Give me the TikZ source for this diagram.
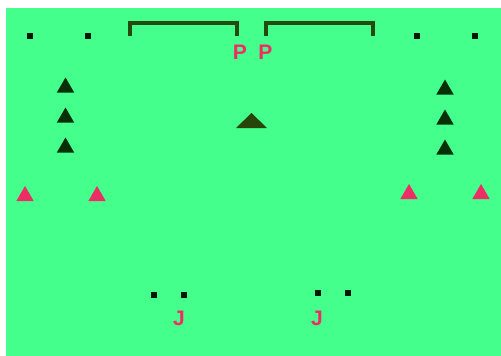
\documentclass[tikz,border=0pt]{standalone}
\usepackage{fontspec}
\setmainfont{Liberation Sans}
\usetikzlibrary{shapes.geometric}
\definecolor{field}{RGB}{68,255,140}
\definecolor{pinkc}{RGB}{238,45,100}
\definecolor{darktri}{RGB}{8,48,8}
\definecolor{olive}{RGB}{40,70,10}
\definecolor{bracketc}{RGB}{35,75,15}
\begin{document}
\begin{tikzpicture}[x=1pt,y=-1pt,
  dotm/.style={fill=black!90!green,minimum size=5.5pt,inner sep=0pt,draw=none},
  blacktri/.style={regular polygon,regular polygon sides=3,fill=darktri,inner sep=0pt,minimum size=20pt,draw=none},
  pinktri/.style={regular polygon,regular polygon sides=3,fill=pinkc,inner sep=0pt,minimum size=20pt,draw=none},
  lbl/.style={text=pinkc,font=\bfseries\fontsize{21}{22}\selectfont,inner sep=0pt},
  bracket/.style={draw=bracketc,line width=4pt}]
\useasboundingbox (0,0) rectangle (501,356);
\fill[white] (0,0) rectangle (501,356);
\fill[field] (6,8) rectangle (501,356);
% top dots
\node[dotm] (d1) at (30,36) {};
\node[dotm] (d2) at (88,36) {};
\node[dotm] (d3) at (417,36) {};
\node[dotm] (d4) at (475,36) {};
% brackets
\draw[bracket] (130,35.5) -- (130,22.5) -- (237,22.5) -- (237,35.5);
\draw[bracket] (266,35.5) -- (266,22.5) -- (373,22.5) -- (373,35.5);
% P labels
\node[lbl] (p1) at (240,52) {P};
\node[lbl] (p2) at (265.5,52) {P};
% center triangle
\fill[olive] (236,128) -- (251.5,113) -- (267,128) -- cycle;
\coordinate (ctri) at (251.5,122);
% left column
\node[blacktri] (l1) at (65.5,87.5) {};
\node[blacktri] (l2) at (65.5,117.5) {};
\node[blacktri] (l3) at (65.5,147.5) {};
% right column
\node[blacktri] (r1) at (445,89.5) {};
\node[blacktri] (r2) at (445,119.5) {};
\node[blacktri] (r3) at (445,149.5) {};
% pink triangles
\node[pinktri] (pk1) at (25,196) {};
\node[pinktri] (pk2) at (97,196) {};
\node[pinktri] (pk3) at (409,194) {};
\node[pinktri] (pk4) at (481,194) {};
% bottom dots
\node[dotm] (b1) at (154,295) {};
\node[dotm] (b2) at (184,295) {};
\node[dotm] (b3) at (318,293) {};
\node[dotm] (b4) at (348,293) {};
% J labels
\node[lbl] (j1) at (179,318) {J};
\node[lbl] (j2) at (317,318) {J};
\end{tikzpicture}
\end{document}
